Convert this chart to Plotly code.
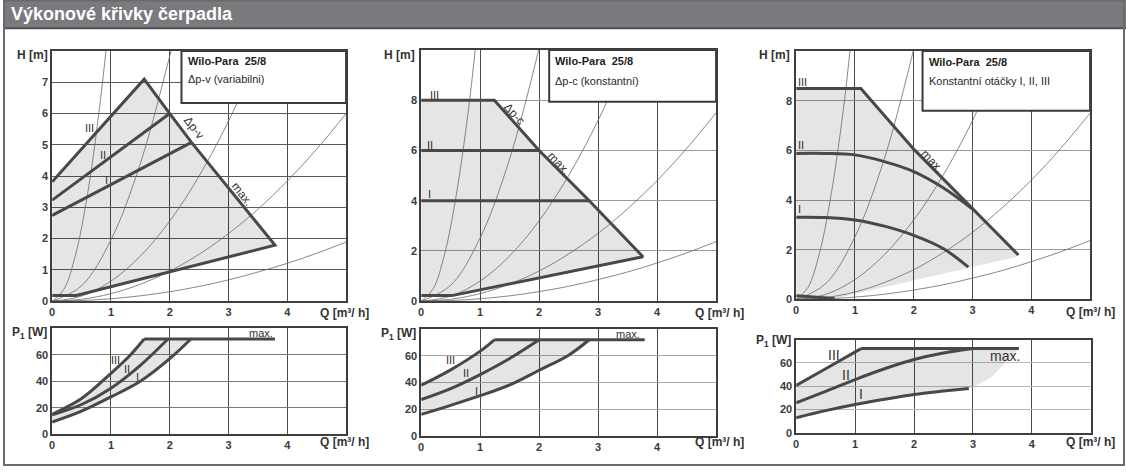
import plotly.graph_objects as go

W, H = 1126, 472

# ---------------- data ----------------
# Thin system curves, panel 1 (H range 0..8)
sys1_q = [[0, 0.2, 0.4, 0.6, 0.8, 0.92],
          [0, 0.5, 1.0, 1.5, 2.0, 2.05],
          [0, 0.5, 1.0, 1.5, 2.0, 2.5, 3.0, 3.5, 3.6],
          [0, 0.5, 1.0, 1.5, 2.0, 2.5, 3.0, 3.5, 4.0, 4.5, 5.0],
          [0, 0.5, 1.0, 1.5, 2.0, 2.5, 3.0, 3.5, 4.0, 4.5, 5.0]]
sys1_h = [[0, 0.38, 1.5, 3.4, 6.1, 8.1],
          [0, 0.49, 1.96, 4.4, 7.84, 8.2],
          [0, 0.16, 0.64, 1.44, 2.56, 4.0, 5.76, 7.84, 8.3],
          [0, 0.06, 0.24, 0.54, 0.96, 1.5, 2.16, 2.94, 3.84, 4.86, 6.0],
          [0, 0.02, 0.076, 0.17, 0.3, 0.47, 0.68, 0.93, 1.21, 1.53, 1.89]]
# Thin system curves, panels 2 and 3 (H range 0..10)
sys2_q = sys1_q
sys2_h = [[0, 0.48, 1.9, 4.3, 7.6, 10.1],
          [0, 0.63, 2.52, 5.67, 10.08, 10.6],
          [0, 0.2, 0.8, 1.8, 3.2, 5.0, 7.2, 9.8, 10.4],
          [0, 0.075, 0.3, 0.68, 1.2, 1.88, 2.7, 3.68, 4.8, 6.08, 7.5],
          [0, 0.024, 0.095, 0.21, 0.38, 0.59, 0.86, 1.16, 1.52, 1.92, 2.37]]

# Panel 1: dp-v (variabilni)
pv_env_q = [0, 0.41, 3.79, 2.37, 2.0, 1.565, 0]
pv_env_h = [0.18, 0.18, 1.79, 5.08, 6.0, 7.1, 3.82]
pv_II_q, pv_II_h = [0, 2.0], [3.23, 6.0]
pv_I_q, pv_I_h = [0, 2.37], [2.74, 5.08]

# Panel 2: dp-c (konstantni)
pc_env_q = [0, 0.52, 3.76, 2.85, 2.0, 1.24, 0]
pc_env_h = [0.22, 0.22, 1.77, 4.0, 6.0, 8.0, 8.0]
pc_II_q, pc_II_h = [0, 2.0], [6.0, 6.0]
pc_I_q, pc_I_h = [0, 2.85], [4.0, 4.0]

# Panel 3: konstantni otacky
ko_fill_q = [0, 0.65, 3.72, 3.78, 3.0, 2.0, 1.10, 0]
ko_fill_h = [0.15, 0.03, 1.7, 1.79, 3.64, 6.05, 8.49, 8.49]
ko_max_q = [0, 1.10, 2.0, 3.0, 3.78]
ko_max_h = [8.49, 8.49, 6.05, 3.64, 1.79]
ko_II_q = [0, 0.5, 1.0, 1.5, 2.0, 2.5, 3.0]
ko_II_h = [5.88, 5.88, 5.82, 5.55, 5.15, 4.5, 3.64]
ko_I_q = [0, 0.5, 1.0, 1.5, 2.0, 2.5, 2.93]
ko_I_h = [3.31, 3.3, 3.2, 2.95, 2.58, 2.05, 1.3]
ko_low_q, ko_low_h = [0, 0.65], [0.15, 0.04]

# Panel 4: P1 for dp-v
p4_III_q, p4_III_p = [0, 0.5, 1.0, 1.31, 1.565], [15.2, 27, 46, 58.8, 71.8]
p4_II_q, p4_II_p = [0, 0.5, 1.0, 1.5, 1.97], [14.7, 22.5, 34.8, 52, 71.8]
p4_I_q, p4_I_p = [0, 0.5, 1.0, 1.5, 2.0, 2.36], [9.3, 17.5, 28.2, 40, 57, 71.8]
p4_max_q, p4_max_p = [1.565, 3.79], [71.8, 71.8]

# Panel 5: P1 for dp-c
p5_III_q, p5_III_p = [0, 0.5, 1.0, 1.24], [38, 49.5, 63.5, 72]
p5_II_q, p5_II_p = [0, 0.5, 1.0, 1.5, 2.0], [27.3, 35.5, 46, 58, 72]
p5_I_q, p5_I_p = [0, 0.5, 1.0, 1.5, 2.0, 2.5, 2.85], [16.2, 23, 30.2, 38.2, 49.2, 60.5, 72]
p5_max_q, p5_max_p = [1.24, 3.79], [72, 72]

# Panel 6: P1 for constant speeds
p6_III_q, p6_III_p = [0, 0.5, 1.1], [40.6, 55, 72.3]
p6_II_q = [0, 0.5, 1.0, 1.5, 2.0, 2.5, 3.0]
p6_II_p = [25.7, 35.5, 45.7, 55, 62.9, 68.5, 72.3]
p6_I_q = [0, 0.5, 1.0, 1.5, 2.0, 2.5, 2.93]
p6_I_p = [12.9, 19, 24.3, 28.8, 32.9, 35.8, 38]
p6_max_q, p6_max_p = [1.1, 3.78], [72.3, 72.3]
p6_edge_q, p6_edge_p = [3.78, 3.55, 3.3, 3.05, 2.93], [72.3, 60, 47, 40.5, 38]

x_ticks = [0, 1, 2, 3, 4]
h8_ticks = [0, 1, 2, 3, 4, 5, 6, 7]
h10_ticks = [0, 2, 4, 6, 8]
p_ticks = [0, 20, 40, 60]

TITLE = "Výkonové křivky čerpadla"
MODEL = "Wilo-Para  25/8"
MODES = ["Δp-v (variabilni)", "Δp-c (konstantní)", "Konstantní otáčky I, II, III"]

# ---------------- styling ----------------
FONT = "Liberation Sans, Arial, sans-serif"
THICK = "#484848"
THIN = "#6a6a6a"
FILL = "rgba(0,0,0,0.10)"

fig = go.Figure()


def px_dom_x(a, b):
    return [a / W, b / W]


def px_dom_y(top, bottom):
    return [1 - bottom / H, 1 - top / H]


panels = {
    1: (49.3, 344, 51.7, 305),
    2: (419.3, 715, 50.7, 305),
    3: (795.3, 1090, 51.7, 303.3),
    4: (49.3, 344, 332.3, 440),
    5: (419.3, 715, 333.3, 441.7),
    6: (795.3, 1090.7, 344, 438.3),
}
yranges = {1: [0, 8], 2: [0, 10], 3: [0, 10], 4: [0, 80], 5: [0, 80], 6: [0, 80]}
yticks = {1: h8_ticks, 2: h10_ticks, 3: h10_ticks, 4: p_ticks, 5: p_ticks, 6: p_ticks}
hgrid = {1: "#5a5a5a", 2: "#9a9a9a", 3: "#9a9a9a", 4: "#7a7a7a", 5: "#a8a8a8", 6: "#b8b8b8"}

layout_axes = {}
for i, (x0, x1, t, b) in panels.items():
    sx = "" if i == 1 else str(i)
    layout_axes["xaxis" + sx] = dict(
        domain=px_dom_x(x0, x1), range=[0, 5], anchor="y" + sx,
        tickvals=x_ticks, showgrid=True, gridcolor="#4a4a4a", gridwidth=1,
        showline=True, mirror=True, linecolor="#3e3e3e", linewidth=1.5,
        zeroline=False, ticks="", fixedrange=True,
        tickfont=dict(family=FONT, size=11, color="#3a3a3a", weight="bold"))
    layout_axes["yaxis" + sx] = dict(
        domain=px_dom_y(t, b), range=yranges[i], anchor="x" + sx,
        tickvals=yticks[i], showgrid=True, gridcolor=hgrid[i], gridwidth=1,
        showline=True, mirror=True, linecolor="#3e3e3e", linewidth=1.5,
        zeroline=False, ticks="", fixedrange=True,
        tickfont=dict(family=FONT, size=11, color="#3a3a3a", weight="bold"))


def ax(i):
    return ("x" if i == 1 else "x%d" % i), ("y" if i == 1 else "y%d" % i)


def add_line(i, q, v, width=3.0, color=THICK, shape="linear"):
    xa, ya = ax(i)
    fig.add_trace(go.Scatter(x=q, y=v, xaxis=xa, yaxis=ya, mode="lines",
                             line=dict(color=color, width=width, shape=shape),
                             hoverinfo="skip", showlegend=False))


def add_fill(i, q, v):
    xa, ya = ax(i)
    fig.add_trace(go.Scatter(x=q, y=v, xaxis=xa, yaxis=ya, mode="lines",
                             fill="toself", fillcolor=FILL, line=dict(width=0),
                             hoverinfo="skip", showlegend=False))


# Panel 1
add_fill(1, pv_env_q, pv_env_h)
for q, h in zip(sys1_q, sys1_h):
    add_line(1, q, h, width=0.8, color=THIN, shape="spline")
add_line(1, pv_env_q, pv_env_h)
add_line(1, pv_II_q, pv_II_h)
add_line(1, pv_I_q, pv_I_h)

# Panel 2
add_fill(2, pc_env_q, pc_env_h)
for q, h in zip(sys2_q, sys2_h):
    add_line(2, q, h, width=0.8, color=THIN, shape="spline")
add_line(2, pc_env_q, pc_env_h)
add_line(2, pc_II_q, pc_II_h)
add_line(2, pc_I_q, pc_I_h)

# Panel 3
add_fill(3, ko_fill_q, ko_fill_h)
for q, h in zip(sys2_q, sys2_h):
    add_line(3, q, h, width=0.8, color=THIN, shape="spline")
add_line(3, ko_max_q, ko_max_h)
add_line(3, ko_II_q, ko_II_h, shape="spline")
add_line(3, ko_I_q, ko_I_h, shape="spline")
add_line(3, ko_low_q, ko_low_h)

# Panel 4
add_fill(4, p4_III_q + p4_I_q[::-1], p4_III_p + p4_I_p[::-1])
add_line(4, p4_III_q, p4_III_p, shape="spline")
add_line(4, p4_II_q, p4_II_p, shape="spline")
add_line(4, p4_I_q, p4_I_p, shape="spline")
add_line(4, p4_max_q, p4_max_p)

# Panel 5
add_fill(5, p5_III_q + p5_I_q[::-1], p5_III_p + p5_I_p[::-1])
add_line(5, p5_III_q, p5_III_p, shape="spline")
add_line(5, p5_II_q, p5_II_p, shape="spline")
add_line(5, p5_I_q, p5_I_p, shape="spline")
add_line(5, p5_max_q, p5_max_p)

# Panel 6
add_fill(6, p6_III_q + p6_max_q[1:] + p6_edge_q[1:] + p6_I_q[::-1][1:],
         p6_III_p + p6_max_p[1:] + p6_edge_p[1:] + p6_I_p[::-1][1:])
add_line(6, p6_III_q, p6_III_p, shape="spline")
add_line(6, p6_II_q, p6_II_p, shape="spline")
add_line(6, p6_I_q, p6_I_p, shape="spline")
add_line(6, p6_max_q, p6_max_p)

shapes = []
annotations = []

# frame + title bar
shapes.append(dict(type="rect", xref="paper", yref="paper", x0=0, x1=1,
                   y0=1 - 29 / H, y1=1, fillcolor="#7a7a7e", line=dict(width=0), layer="above"))
shapes.append(dict(type="line", xref="paper", yref="paper", x0=0, x1=1,
                   y0=1 - 28.5 / H, y1=1 - 28.5 / H, line=dict(color="#505050", width=2)))
shapes.append(dict(type="rect", xref="paper", yref="paper", x0=1 / W, x1=1124 / W,
                   y0=1 / H, y1=1 - 0.5 / H, line=dict(color="#6a6a6a", width=2), layer="above"))
annotations.append(dict(text="<b>" + TITLE + "</b>", xref="paper", yref="paper",
                        x=6 / W, y=1 - 14.5 / H, xanchor="left", yanchor="middle",
                        showarrow=False, font=dict(family=FONT, size=18, color="white")))

# info boxes
boxes = {1: (2.2, 6.34, 7.67, 7.1), 2: (2.17, 7.94, 9.57, 8.78), 3: (2.15, 7.6, 9.54, 8.78)}
for i, (bx, by, t1, t2) in boxes.items():
    xa, ya = ax(i)
    shapes.append(dict(type="rect", xref=xa, yref=ya, x0=bx, x1=5, y0=by, y1=yranges[i][1],
                       fillcolor="white", line=dict(color="#3a3a3a", width=2), layer="above"))
    annotations.append(dict(text="<b>" + MODEL + "</b>", xref=xa, yref=ya, x=bx + 0.07, y=t1,
                            xanchor="left", yanchor="middle", showarrow=False,
                            font=dict(family=FONT, size=11, color="#1e1e1e")))
    annotations.append(dict(text=MODES[i - 1], xref=xa, yref=ya, x=bx + 0.07, y=t2,
                            xanchor="left", yanchor="middle", showarrow=False,
                            font=dict(family=FONT, size=11, color="#2a2a2a")))


def lab(i, text, x, y, size=11, angle=0):
    xa, ya = ax(i)
    annotations.append(dict(text=text, xref=xa, yref=ya, x=x, y=y, textangle=angle,
                            xanchor="center", yanchor="middle", showarrow=False,
                            font=dict(family=FONT, size=size, color="#333333")))


lab(1, "III", 0.63, 5.53); lab(1, "II", 0.86, 4.68); lab(1, "I", 0.93, 3.86)
lab(1, "Δp-v", 2.42, 5.55, 12, 52); lab(1, "max.", 3.23, 3.42, 12, 52)
lab(2, "III", 0.22, 8.22); lab(2, "II", 0.15, 6.22); lab(2, "I", 0.14, 4.27)
lab(2, "Δp-c", 1.58, 7.45, 12, 47); lab(2, "max.", 2.33, 5.5, 12, 47)
lab(3, "III", 0.1, 8.75); lab(3, "II", 0.08, 6.2); lab(3, "I", 0.05, 3.66)
lab(3, "max.", 2.31, 5.56, 12, 47)
lab(4, "III", 1.08, 56.3); lab(4, "II", 1.28, 49.5); lab(4, "I", 1.45, 43.3)
lab(4, "max.", 3.55, 76.5)
lab(5, "III", 0.49, 56.9); lab(5, "II", 0.76, 47); lab(5, "I", 0.93, 33.9)
lab(5, "max.", 3.5, 76.5)
lab(6, "III", 0.64, 66.6, 14); lab(6, "II", 0.84, 50, 14); lab(6, "I", 1.1, 32.9, 14)
lab(6, "max.", 3.55, 65.7, 14)


def ptxt(text, x, y, size=12):
    annotations.append(dict(text="<b>" + text + "</b>", xref="paper", yref="paper",
                            x=x / W, y=1 - y / H, xanchor="center", yanchor="middle",
                            showarrow=False, font=dict(family=FONT, size=size, color="#333333")))


ptxt("H [m]", 30, 56); ptxt("H [m]", 398, 56); ptxt("H [m]", 774, 56)
ptxt("Q [m³/ h]", 342, 317); ptxt("Q [m³/ h]", 718, 317); ptxt("Q [m³/ h]", 1090, 316)
ptxt("P<sub>1</sub> [W]", 27, 337); ptxt("P<sub>1</sub> [W]", 397, 338); ptxt("P<sub>1</sub> [W]", 773, 345)
ptxt("Q [m³/ h]", 342, 448); ptxt("Q [m³/ h]", 718, 448); ptxt("Q [m³/ h]", 1090, 448)

fig.update_layout(width=W, height=H, margin=dict(l=0, r=0, t=0, b=0),
                  paper_bgcolor="white", plot_bgcolor="white",
                  shapes=shapes, annotations=annotations, showlegend=False,
                  **layout_axes)

fig.write_html("out.html", config={"displayModeBar": False},
               post_script="document.body.style.margin='0';document.body.style.overflow='hidden';")
